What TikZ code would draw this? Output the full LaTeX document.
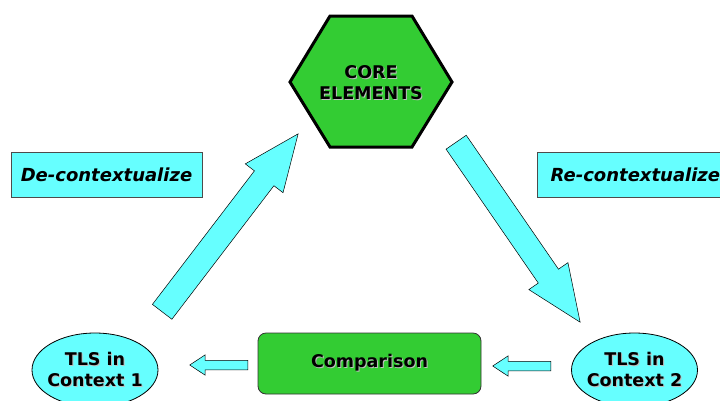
\documentclass[tikz,border=0pt]{standalone}
\usepackage{fontspec}
\setmainfont{DejaVu Sans}
\usetikzlibrary{shapes.arrows, shapes.geometric, calc}
\definecolor{lcyan}{HTML}{66FFFF}
\definecolor{lgreen}{HTML}{33CC33}
\newcommand\shd[1]{\leavevmode\rlap{\hspace{1pt}\raisebox{-1pt}{\textcolor{black!25}{#1}}}#1}
\tikzset{
  bigtext/.style={font=\fontsize{17.5}{21.5}\selectfont\bfseries, align=center},
  fatarrow/.style={single arrow, draw=black, fill=lcyan, line width=0.5pt, inner xsep=0pt, minimum width=0pt, single arrow head indent=0pt, anchor=tail},
  bigarrow/.style={fatarrow, inner ysep=12pt, single arrow head extend=11.5pt, single arrow tip angle=46},
  smallarrow/.style={fatarrow, inner ysep=4.5pt, single arrow head extend=5.5pt, single arrow tip angle=67},
  ctxbox/.style={draw=black!70, fill=lcyan, line width=0.8pt, minimum width=191pt, minimum height=45pt, font=\fontsize{18}{22}\selectfont\bfseries\itshape},
  tls/.style={ellipse, draw=black, fill=lcyan, line width=0.8pt, minimum width=126pt, minimum height=74pt, inner xsep=-4.5pt, inner ysep=0pt, bigtext},
  cmpbox/.style={draw=black!80, fill=lgreen, rounded corners=8pt, line width=0.8pt, minimum width=223pt, minimum height=61pt, bigtext}
}
\newcommand\fatarrow[4]{\path let \p1=(#3), \p2=(#4), \n1={atan2(\y2-\y1,\x2-\x1)}, \n2={veclen(\x2-\x1,\y2-\y1)} in node[#1, minimum height=\n2, rotate=\n1] (#2) at (\p1) {};}

\begin{document}
\begin{tikzpicture}[x=1pt, y=-1pt]
	\useasboundingbox (0,0) rectangle (720,400);
	\filldraw[fill=lgreen, draw=black, line width=3pt] (290,82) -- (330,16) -- (412,16) -- (452,82) -- (412,147) -- (330,147) -- cycle;
	\node[bigtext] (core) at (371,83) {\shd{CORE}\\\shd{ELEMENTS}};
	
	\node[ctxbox] (decon) at (106.5,174.5) {De-contextualize};
	\node[ctxbox, minimum width=196pt, anchor=west] (recon) at (537,174.5) {Re-contextualize};
	
	\node[tls] (ctx1) at (95,370) {\shd{TLS in}\\\shd{Context 1}};
	\node[tls] (ctx2) at (634.5,370) {\shd{TLS in}\\\shd{Context 2}};
	\node[cmpbox] (cmp) at (369.5,363.5) {\shd{Comparison}};
	
	\coordinate (upTail) at (162,312);
	\coordinate (upTip) at (298,134);
	\coordinate (downTail) at (456,142);
	\coordinate (downTip) at (580,322);
	\coordinate (leftTail) at (248,365);
	\coordinate (leftTip) at (190,365);
	\coordinate (rightTail) at (551,366);
	\coordinate (rightTip) at (493,366);
	
	\fatarrow{bigarrow}{up}{upTail}{upTip}
	\fatarrow{bigarrow}{down}{downTail}{downTip}
	\fatarrow{smallarrow}{left}{leftTail}{leftTip}
	\fatarrow{smallarrow}{right}{rightTail}{rightTip}
\end{tikzpicture}
\end{document}
